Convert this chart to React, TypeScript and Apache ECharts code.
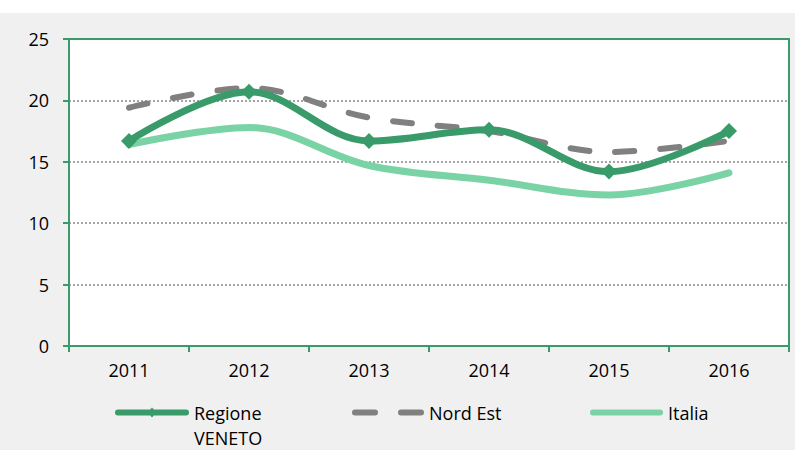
import React, { useEffect, useRef } from "react";
import * as echarts from "echarts";

const years = ["2011", "2012", "2013", "2014", "2015", "2016"];
const veneto = [16.7, 20.7, 16.7, 17.6, 14.2, 17.5];
const nordEst = [19.4, 21.0, 18.6, 17.5, 15.8, 16.7];
const italia = [16.4, 17.8, 14.7, 13.5, 12.3, 14.1];
const yTicks = [0, 5, 10, 15, 20, 25];

const DARK = "#389b69";
const LIGHT = "#7ad3a4";
const GRAY = "#808080";
const FONT = "Open Sans";

const ICON_VENETO =
  "path://M3,2 L71,2 A3,3 0 0 1 71,8 L3,8 A3,3 0 0 1 3,2 Z M37,0 L41.5,5 L37,10 L32.5,5 Z";
const ICON_NORD =
  "path://M3,0 L23,0 A3,3 0 0 1 23,6 L3,6 A3,3 0 0 1 3,0 Z M49,0 L69,0 A3,3 0 0 1 69,6 L49,6 A3,3 0 0 1 49,0 Z";
const ICON_ITALIA = "path://M3,0 L70,0 A3,3 0 0 1 70,6 L3,6 A3,3 0 0 1 3,0 Z";

export default function App() {
  const ref = useRef<HTMLDivElement>(null);
  useEffect(() => {
    if (!ref.current) return;
    const chart = echarts.init(ref.current, null, { renderer: "svg" });
    const textStyle = { fontFamily: FONT, fontSize: 18, color: "#000", lineHeight: 25 };
    const legendBase = {
      orient: "horizontal",
      padding: 0,
      itemGap: 0,
      textStyle,
    };
    chart.setOption({
      animation: false,
      backgroundColor: "transparent",
      textStyle: { fontFamily: FONT },
      grid: {
        left: 69,
        right: 6,
        top: 39,
        bottom: 104,
        show: true,
        backgroundColor: "#ffffff",
        borderColor: DARK,
        borderWidth: 2,
      },
      legend: [
        {
          ...legendBase,
          left: 115,
          top: 375,
          itemWidth: 74,
          itemHeight: 10,
          icon: ICON_VENETO,
          data: ["Regione VENETO"],
          formatter: () => "\u00a0\nRegione\nVENETO",
        },
        {
          ...legendBase,
          left: 352,
          top: 400,
          itemWidth: 72,
          itemHeight: 6,
          icon: ICON_NORD,
          data: ["Nord Est"],
        },
        {
          ...legendBase,
          left: 590,
          top: 400,
          itemWidth: 73,
          itemHeight: 6,
          icon: ICON_ITALIA,
          data: ["Italia"],
        },
      ],
      xAxis: {
        type: "category",
        data: years,
        boundaryGap: true,
        axisLine: { lineStyle: { color: DARK, width: 2 } },
        axisTick: { show: true, length: 6, lineStyle: { color: DARK, width: 2 } },
        axisLabel: { fontFamily: FONT, fontSize: 18, color: "#000", margin: 15 },
        splitLine: { show: false },
      },
      yAxis: {
        type: "value",
        min: yTicks[0],
        max: yTicks[yTicks.length - 1],
        interval: 5,
        axisLine: { show: true, lineStyle: { color: DARK, width: 2 } },
        axisTick: { show: true, length: 6, lineStyle: { color: DARK, width: 2 } },
        axisLabel: { fontFamily: FONT, fontSize: 18, color: "#000", margin: 20 },
        splitLine: {
          show: true,
          lineStyle: {
            color: ["transparent", "#888", "#888", "#888", "#888", "transparent"],
            type: [2, 2],
            width: 1.5,
          },
        },
      },
      series: [
        {
          name: "Regione VENETO",
          type: "line",
          data: veneto,
          smooth: 0.35,
          z: 4,
          symbol: "diamond",
          symbolSize: 16,
          itemStyle: { color: DARK },
          lineStyle: { color: DARK, width: 7 },
        },
        {
          name: "Nord Est",
          type: "line",
          data: nordEst,
          smooth: 0.35,
          z: 3,
          symbol: "none",
          itemStyle: { color: GRAY },
          lineStyle: { color: GRAY, width: 6, type: [19, 26], cap: "round" },
        },
        {
          name: "Italia",
          type: "line",
          data: italia,
          smooth: 0.35,
          z: 2,
          symbol: "none",
          itemStyle: { color: LIGHT },
          lineStyle: { color: LIGHT, width: 7, cap: "round" },
        },
      ],
    });
    return () => chart.dispose();
  }, []);
  return (
    <div
      style={{
        position: "fixed",
        left: 0,
        top: 0,
        width: 795,
        height: 450,
        background: "linear-gradient(#ffffff 0px, #ffffff 13px, #f0f0f0 13px, #f0f0f0 100%)",
      }}
    >
      <div ref={ref} style={{ width: 795, height: 450 }} />
    </div>
  );
}
